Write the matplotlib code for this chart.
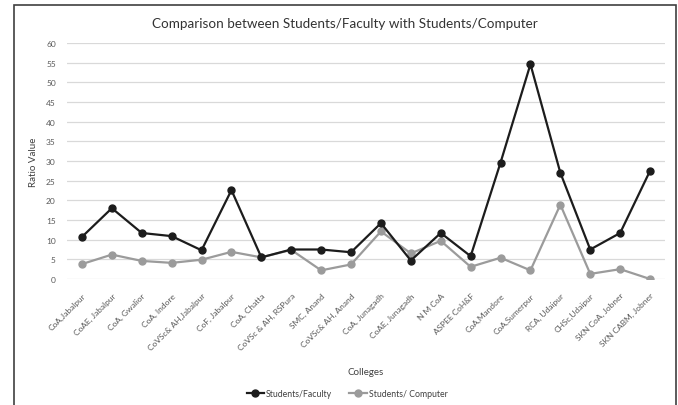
import matplotlib.pyplot as plt
from matplotlib.patches import Rectangle

plt.rcParams["font.family"] = ["Lato", "DejaVu Sans"]

colleges = [
    "CoA,Jabalpur", "CoAE, Jabalpur", "CoA, Gwalior", "CoA, Indore",
    "CoVSc& AH,Jabalpur", "CoF, Jabalpur", "CoA, Chatta", "CoVSc & AH, RSPura",
    "SMC, Anand", "CoVSc& AH, Anand", "CoA, Junagadh", "CoAE, Junagadh",
    "N M CoA", "ASPEE CoH&F", "CoA,Mandore", "CoA,Sumerpur",
    "RCA, Udaipur", "CHSc,Udaipur", "SKN CoA, Jobner", "SKN CABM, Jobner",
]
students_faculty = [10.7, 18.0, 11.7, 10.9, 7.3, 22.6, 5.5, 7.5, 7.5, 6.8,
                    14.2, 4.7, 11.7, 5.8, 29.6, 54.6, 27.0, 7.5, 11.7, 27.5]
students_computer = [3.8, 6.2, 4.6, 4.1, 4.9, 6.9, 5.5, 7.4, 2.2, 3.7,
                     12.1, 6.5, 9.7, 3.1, 5.4, 2.2, 18.9, 1.3, 2.5, 0.0]

yticks = list(range(0, 61, 5))

fig = plt.figure(figsize=(6.78, 4.06), dpi=100)
ax = fig.add_axes([67 / 678, 1 - 280 / 406, 598 / 678, 236 / 406])

# outer chart frame (open at the bottom, as in the source image)
fig.patches.append(Rectangle((14 / 678, -0.05), 662 / 678, 1.05 - 6 / 406,
                             transform=fig.transFigure, fill=False,
                             edgecolor="#404040", linewidth=1.2))

x = list(range(len(colleges)))
ax.plot(x, students_faculty, color="#1c1c1c", linewidth=1.6, marker="o",
        markersize=5, label="Students/Faculty", zorder=3)
ax.plot(x, students_computer, color="#9b9b9b", linewidth=1.6, marker="o",
        markersize=5, label="Students/ Computer", zorder=2)

ax.set_xlim(-0.5, len(colleges) - 0.5)
ax.set_ylim(0, 60)
ax.set_yticks(yticks)
ax.yaxis.grid(True, color="#d9d9d9", linewidth=0.9)
ax.set_axisbelow(True)
for spine in ax.spines.values():
    spine.set_visible(False)
ax.tick_params(axis="both", length=0, colors="#595959", labelsize=6)
ax.tick_params(axis="y", pad=8)
ax.tick_params(axis="x", pad=9)
ax.set_xticks(x)
ax.set_xticklabels(colleges, rotation=45, ha="right", rotation_mode="anchor")

ax.set_ylabel("Ratio Value", fontsize=7, color="#404040", labelpad=6)
ax.set_xlabel("Colleges", fontsize=7, color="#404040")
ax.xaxis.set_label_coords(0.5, -(368 - 280) / 236)

fig.text(345 / 678, 1 - 24 / 406,
         "Comparison between Students/Faculty with Students/Computer",
         ha="center", va="center", fontsize=9.7, color="#333333")

fig.legend(loc="center", bbox_to_anchor=(347 / 678, 1 - 395 / 406), ncol=2,
           frameon=False, fontsize=6.3, handlelength=2.0, columnspacing=2.0,
           handletextpad=0.2, labelcolor="#404040")

fig.savefig("out.png", dpi=100)
